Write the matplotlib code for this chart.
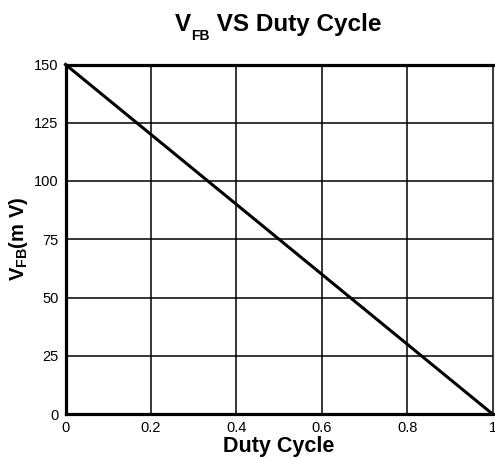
import matplotlib
matplotlib.use("Agg")
import matplotlib.pyplot as plt

# duty cycle vs feedback voltage
duty = [0.0, 1.0]
vfb = [150, 0]
xticks = [0, 0.2, 0.4, 0.6, 0.8, 1]
xlabels = ["0", "0.2", "0.4", "0.6", "0.8", "1"]
yticks = [0, 25, 50, 75, 100, 125, 150]

plt.rcParams['font.family'] = ['Liberation Sans', 'DejaVu Sans']
plt.rcParams['mathtext.fontset'] = 'custom'
plt.rcParams['mathtext.rm'] = 'Liberation Sans:bold'
plt.rcParams['mathtext.bf'] = 'Liberation Sans:bold'

W, H = 495, 459
fig = plt.figure(figsize=(W / 100, H / 100), dpi=100)
ax = fig.add_axes([65.5 / W, 1 - 414 / H, 427 / W, 349.5 / H])

ax.plot(duty, vfb, color='black', linewidth=2.2, clip_on=False, zorder=3)

ax.set_xlim(0, 1)
ax.set_ylim(0, 150)
ax.set_xticks(xticks)
ax.set_xticklabels(xlabels)
ax.set_yticks(yticks)
ax.tick_params(length=0, labelsize=10.5)
ax.tick_params(axis='x', pad=5)
ax.tick_params(axis='y', pad=5)
ax.grid(True, color='black', linewidth=1.1)

for side in ['top', 'bottom', 'left']:
    ax.spines[side].set_linewidth(2.3)
ax.spines['right'].set_linewidth(0.8)
ax.spines['right'].set_color('#444444')

ax.set_xlabel("Duty Cycle", fontsize=15.5, fontweight='bold', labelpad=1)
ax.set_ylabel(r"$\mathbf{V_{FB}}$(m V)", fontsize=14.5, fontweight='bold', labelpad=3)

# title built from pieces so the subscript can be small and low
renderer = fig.canvas.get_renderer()
parts = [("V", 17.5, 0), ("FB", 10, -9), (" VS Duty Cycle", 17.5, 0)]
texts = []
total = 0
for s, fs, dy in parts:
    t = fig.text(0, 0, s, fontsize=fs, fontweight='bold', ha='left', va='baseline')
    w = t.get_window_extent(renderer).width
    texts.append((t, w, dy))
    total += w
x0 = 278 - total / 2
base = 31
for t, w, dy in texts:
    t.set_position((x0 / W, 1 - (base - dy) / H))
    x0 += w

fig.savefig("out.png", dpi=100)
